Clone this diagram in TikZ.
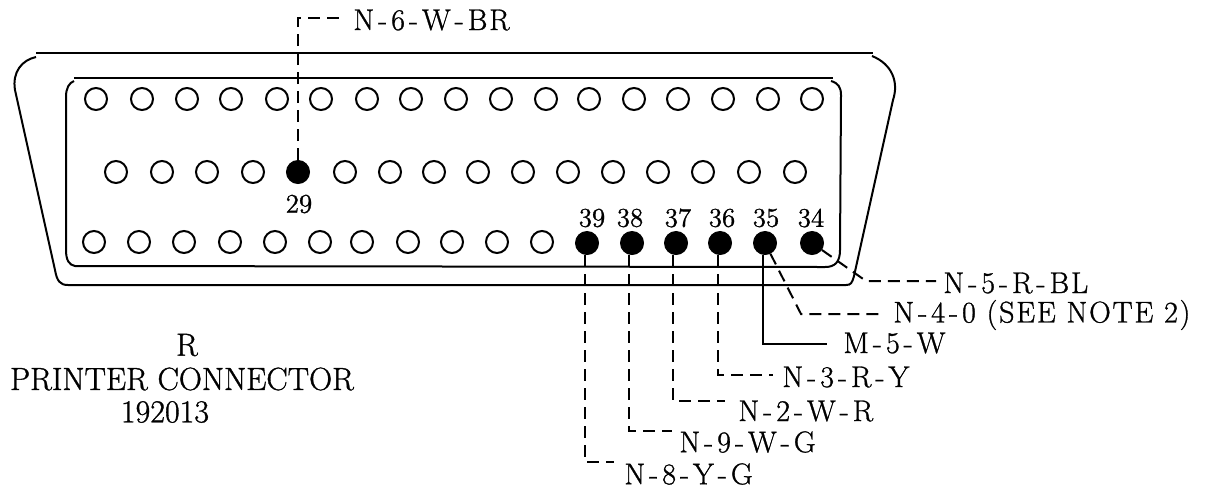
\documentclass[tikz,border=0pt]{standalone}
\usepackage{fontspec}
\setmainfont[LetterSpace=6,FakeBold=1]{Latin Modern Roman}
\XeTeXinterchartokenstate=1
\newXeTeXintercharclass\hyclass
\XeTeXcharclass`\-=\hyclass
\XeTeXinterchartoks 0 \hyclass={\kern2pt}
\XeTeXinterchartoks \hyclass 0={\kern2pt}
\tikzset{
  openpin/.style={draw, circle, line width=1pt, inner sep=0pt, minimum size=11pt},
  fullpin/.style={draw, circle, fill=black, line width=0.5pt, inner sep=0pt, minimum size=11.5pt},
  pinno/.style={inner sep=0pt, font=\addfontfeature{LetterSpace=0}\fontsize{13.5}{15}\selectfont},
  wirelabel/.style={anchor=west, inner sep=0pt, font=\fontsize{15}{17}\selectfont},
  titletext/.style={inner sep=0pt, font=\addfontfeature{LetterSpace=0}\fontsize{16}{18}\selectfont},
  shell/.style={line width=1pt},
  wire/.style={line width=1pt, dash pattern=on 6pt off 3.5pt},
  solidwire/.style={line width=1pt}
}
\begin{document}
\begin{tikzpicture}[x=0.5pt, y=-0.5pt]\useasboundingbox (0,0) rectangle (1214,489);
\draw[shell] (36,53) -- (873,53);
\draw[shell] (36,57) .. controls (22,60) and (12,72) .. (15,90) -- (55,270) .. controls (57,281) and (60,285) .. (68,285) -- (846,285) .. controls (851,285) and (852,283) .. (854,276) -- (893,100) .. controls (899,82) and (892,64) .. (872,56);
\draw[shell] (74,78) -- (833,78);
\draw[shell] (74,81) .. controls (69,83) and (66,88) .. (66,97) -- (66,250) .. controls (66,260) and (69,265) .. (75,266) -- (825,267) .. controls (835,267) and (840,262) .. (840,250) -- (841,95) .. controls (841,87) and (838,83) .. (831,81);
\node[openpin] (a1) at (96,99) {};
\node[openpin] (a2) at (142,99) {};
\node[openpin] (a3) at (187,99) {};
\node[openpin] (a4) at (231,99) {};
\node[openpin] (a5) at (277,99) {};
\node[openpin] (a6) at (321,99) {};
\node[openpin] (a7) at (367,99) {};
\node[openpin] (a8) at (411,99) {};
\node[openpin] (a9) at (456,99) {};
\node[openpin] (a10) at (501,99) {};
\node[openpin] (a11) at (546,99) {};
\node[openpin] (a12) at (589,99) {};
\node[openpin] (a13) at (634,99) {};
\node[openpin] (a14) at (678,99) {};
\node[openpin] (a15) at (723,99) {};
\node[openpin] (a16) at (768,99) {};
\node[openpin] (a17) at (812,99) {};
\node[openpin] (b1) at (116,172) {};
\node[openpin] (b2) at (162,172) {};
\node[openpin] (b3) at (207,172) {};
\node[openpin] (b4) at (253,172) {};
\node[fullpin] (pin29) at (298,172) {};
\node[openpin] (b6) at (345,172) {};
\node[openpin] (b7) at (390,172) {};
\node[openpin] (b8) at (434,172) {};
\node[openpin] (b9) at (478,172) {};
\node[openpin] (b10) at (523,172) {};
\node[openpin] (b11) at (568,172) {};
\node[openpin] (b12) at (613,172) {};
\node[openpin] (b13) at (658,172) {};
\node[openpin] (b14) at (703,172) {};
\node[openpin] (b15) at (749,172) {};
\node[openpin] (b16) at (795,172) {};
\node[openpin] (c1) at (94,242) {};
\node[openpin] (c2) at (139,242) {};
\node[openpin] (c3) at (184,242) {};
\node[openpin] (c4) at (230,242) {};
\node[openpin] (c5) at (275,242) {};
\node[openpin] (c6) at (320,242) {};
\node[openpin] (c7) at (362,242) {};
\node[openpin] (c8) at (408,242) {};
\node[openpin] (c9) at (452,242) {};
\node[openpin] (c10) at (497,242) {};
\node[openpin] (c11) at (542,242) {};
\node[fullpin] (pin39) at (587,243) {};
\node[fullpin] (pin38) at (632,243) {};
\node[fullpin] (pin37) at (676,243) {};
\node[fullpin] (pin36) at (720,243) {};
\node[fullpin] (pin35) at (765,243) {};
\node[fullpin] (pin34) at (812,243) {};
\node[pinno] (no29) at (299,204) {29};
\node[pinno] (no39) at (592,218) {39};
\node[pinno] (no38) at (630,218) {38};
\node[pinno] (no37) at (678,218) {37};
\node[pinno] (no36) at (722,218) {36};
\node[pinno] (no35) at (766,218) {35};
\node[pinno] (no34) at (811,218) {34};
\node[wirelabel] (lbl29) at (353,20) {N-6-W-BR};
\node[wirelabel] (lbl34) at (943,283) {N-5-R-BL};
\node[wirelabel] (lbl354) at (893,315) {N-4-0 (SEE NOTE 2)};
\node[wirelabel] (lbl35) at (843,343) {M-5-W};
\node[wirelabel] (lbl36) at (782,377) {N-3-R-Y};
\node[wirelabel] (lbl37) at (738,411) {N-2-W-R};
\node[wirelabel] (lbl38) at (679,442) {N-9-W-G};
\node[wirelabel] (lbl39) at (624,474) {N-8-Y-G};
\node[titletext] (ttl1) at (187,345) {R};
\node[titletext] (ttl2) at (182,379) {PRINTER CONNECTOR};
\node[titletext] (ttl3) at (165,412) {192013};
\coordinate (b29) at (298,18);
\coordinate (e29) at (345,18);
\coordinate (b34) at (866,281);
\coordinate (e34) at (936,281);
\coordinate (b354) at (801,314);
\coordinate (e354) at (884,314);
\coordinate (b35) at (763,344);
\coordinate (e35) at (827,344);
\coordinate (b36) at (718,375);
\coordinate (e36) at (773,375);
\coordinate (b37) at (673,401);
\coordinate (e37) at (725,401);
\coordinate (b38) at (629,431);
\coordinate (e38) at (672,431);
\coordinate (b39) at (585,462);
\coordinate (e39) at (614,462);
\draw[wire] (pin29) -- (b29) -- (e29);
\draw[wire] (pin34) -- (b34) -- (e34);
\draw[wire] (pin35) -- (b354) -- (e354);
\draw[solidwire] (pin35.south -| b35) -- (b35) -- (e35);
\draw[wire] (pin36.south -| b36) -- (b36) -- (e36);
\draw[wire] (pin37.south -| b37) -- (b37) -- (e37);
\draw[wire] (pin38.south -| b38) -- (b38) -- (e38);
\draw[wire] (pin39.south -| b39) -- (b39) -- (e39);\end{tikzpicture}
\end{document}
